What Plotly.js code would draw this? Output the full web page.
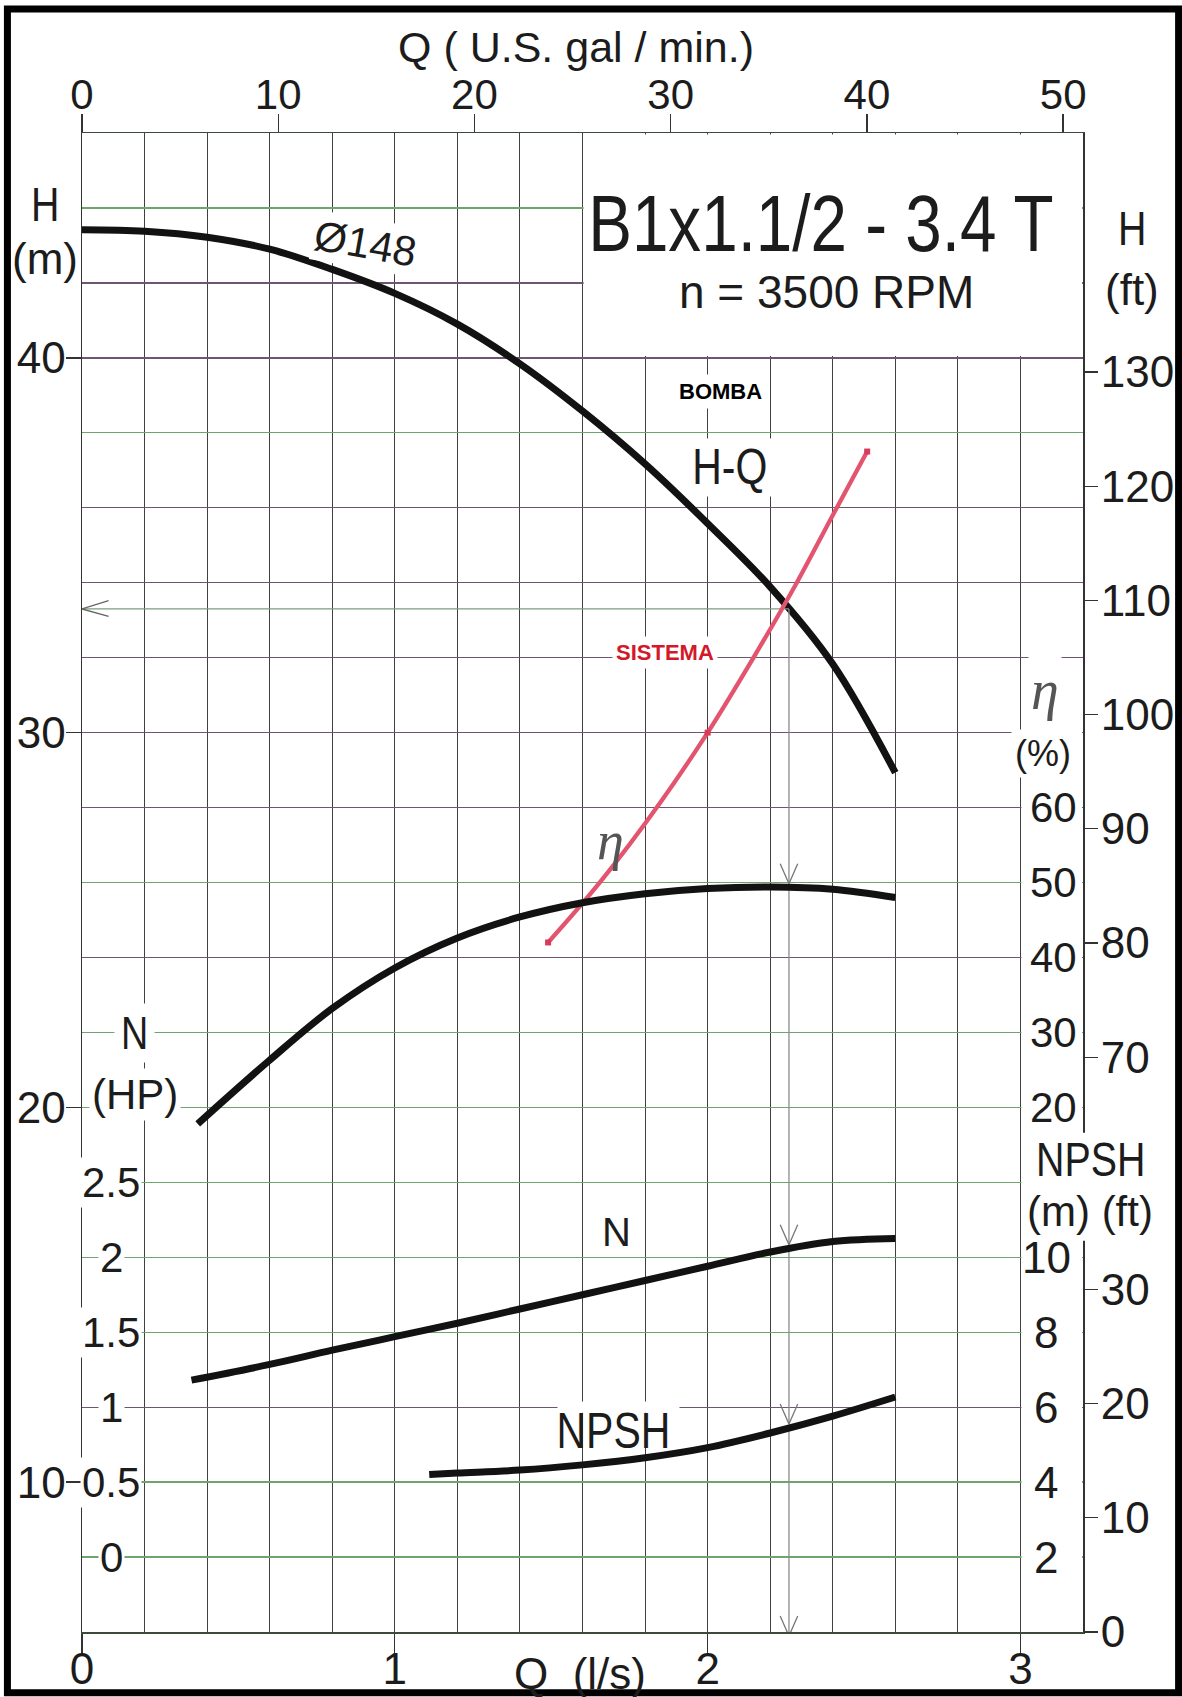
<!DOCTYPE html>
<html><head><meta charset="utf-8">
<script src="https://cdn.plot.ly/plotly-3.0.1.min.js"></script>
<style>html,body{margin:0;padding:0;background:#fff}</style>
</head><body>
<div id="chart" style="width:1182px;height:1697px"></div>
<script>
// ---------------- data ----------------
const qHQ  = [0, 0.2, 0.4, 0.6, 0.8, 1.0, 1.2, 1.4, 1.6, 1.8, 2.0, 2.2, 2.4, 2.6];
const hHQ  = [43.42, 43.38, 43.22, 42.90, 42.36, 41.72, 40.90, 39.84, 38.58, 37.17, 35.58, 33.89, 31.83, 28.93];
const qEta = [0.37, 0.6, 0.8, 1.0, 1.2, 1.4, 1.6, 1.8, 2.0, 2.2, 2.4, 2.6];
const eta  = [17.8, 26.3, 33.2, 38.6, 42.6, 45.4, 47.3, 48.5, 49.2, 49.4, 49.1, 48.0];
const qN   = [0.35, 0.6, 0.8, 1.0, 1.2, 1.4, 1.6, 1.8, 2.0, 2.2, 2.4, 2.6];
const nHP  = [1.18, 1.285, 1.38, 1.47, 1.56, 1.655, 1.75, 1.845, 1.94, 2.035, 2.105, 2.125];
const qNPSH = [1.11, 1.2, 1.4, 1.6, 1.8, 2.0, 2.2, 2.4, 2.6];
const npsh  = [4.2, 4.24, 4.32, 4.46, 4.65, 4.92, 5.31, 5.76, 6.27];
const qSys = [1.49, 1.66, 1.85, 2.0, 2.15, 2.285, 2.40, 2.51];
const hSys = [24.4, 26.05, 28.15, 30.0, 32.05, 34.0, 35.8, 37.5];
const qSysPts = [1.49, 2.0, 2.51];
const hSysPts = [24.4, 30.0, 37.5];
const qOp = 2.26;
const hOp = 33.3;

// tick values / labels
const qTicks = [0, 1, 2, 3];
const gpmTicks = [0, 10, 20, 30, 40, 50];
const hTicks = [10, 20, 30, 40];
const hFtTicks = [70, 80, 90, 100, 110, 120, 130];
const etaTicks = [20, 30, 40, 50, 60];
const nTicks = [0, 0.5, 1, 1.5, 2, 2.5];
const npshMTicks = [2, 4, 6, 8, 10];
const npshFtTicks = [0, 10, 20, 30];
const gridGreen = [44, 38, 26, 22, 20, 18, 16, 14, 10, 8];
const gridPurple = [42, 40, 36, 34, 32, 30, 28, 24, 12];

// scale factors as printed on the sheet
const GPM = 0.06273;     // l/s per US gal/min (as the printed top scale runs)
const FT = 0.3048;       // m per ft

// ---------------- helpers ----------------
function interp(xs, ys, x) {
  for (let i = 0; i < xs.length - 1; i++) {
    if (x >= xs[i] && x <= xs[i + 1]) {
      const t = (x - xs[i]) / (xs[i + 1] - xs[i]);
      return ys[i] + t * (ys[i + 1] - ys[i]);
    }
  }
  return ys[ys.length - 1];
}
const FONT = 'Liberation Sans, Arial, sans-serif';
const SERIF = 'Liberation Serif, DejaVu Serif, serif';
const INK = '#1c1c1c';

const H0 = 6, H1 = 46;
const plotH = 1499;
const pxH = (H1 - H0) / plotH;
const pxEta = 200 / plotH;
const pxN = 10 / plotH;
const pxNP = 40 / plotH;

const traces = [];
// empty traces so that every axis is drawn
[['x', 'y7'], ['x', 'y8'], ['x2', 'y'], ['x', 'y2'], ['x', 'y6']].forEach(p =>
  traces.push({x: [], y: [], xaxis: p[0], yaxis: p[1], showlegend: false, hoverinfo: 'skip'}));

const curveLine = {color: '#121212', width: 7, shape: 'spline', smoothing: 1};
traces.push({x: qHQ, y: hHQ, mode: 'lines', line: curveLine, yaxis: 'y', hoverinfo: 'skip'});
traces.push({x: qEta, y: eta, mode: 'lines', line: curveLine, yaxis: 'y3', hoverinfo: 'skip'});
traces.push({x: qN, y: nHP, mode: 'lines', line: curveLine, yaxis: 'y4', hoverinfo: 'skip'});
traces.push({x: qNPSH, y: npsh, mode: 'lines', line: curveLine, yaxis: 'y5', hoverinfo: 'skip'});

// operating point guide lines
traces.push({x: [qOp, 0], y: [hOp, hOp], mode: 'lines', line: {color: '#7f9c80', width: 1.3}, yaxis: 'y', hoverinfo: 'skip'});
traces.push({x: [0.085, 0, 0.085], y: [hOp + 0.22, hOp, hOp - 0.2], mode: 'lines', line: {color: '#666', width: 1.4}, yaxis: 'y', hoverinfo: 'skip'});
traces.push({x: [qOp, qOp], y: [hOp, H0 - 4 * pxH], mode: 'lines', line: {color: '#8c8c8c', width: 1.3}, yaxis: 'y', cliponaxis: false, hoverinfo: 'skip'});

function chevron(axis, tip, unit, clip) {
  return {x: [qOp - 0.028, qOp, qOp + 0.028], y: [tip + 20 * unit, tip, tip + 20 * unit],
    mode: 'lines', line: {color: '#777', width: 1.3}, yaxis: axis, cliponaxis: clip, hoverinfo: 'skip'};
}
traces.push(chevron('y3', interp(qEta, eta, qOp) + 4 * pxEta, pxEta, true));
traces.push(chevron('y4', interp(qN, nHP, qOp) + 4 * pxN, pxN, true));
traces.push(chevron('y5', interp(qNPSH, npsh, qOp) + 4 * pxNP, pxNP, true));
traces.push(chevron('y', H0 - 4 * pxH, pxH, false));

// system curve
traces.push({x: qSys, y: hSys, mode: 'lines', line: {color: '#e3546f', width: 4.3, shape: 'spline', smoothing: 1}, yaxis: 'y', hoverinfo: 'skip'});
traces.push({x: qSysPts, y: hSysPts, mode: 'markers', marker: {color: '#d83c5c', size: 6, symbol: 'square'}, yaxis: 'y', hoverinfo: 'skip'});

// ---------------- annotations ----------------
const ann = [];
const narrow = [];   // indices of annotations drawn condensed
function A(o, condensed) {
  if (condensed) narrow.push(ann.length);
  ann.push(Object.assign({showarrow: false, xref: 'x', yref: 'y', xanchor: 'center', yanchor: 'middle',
    font: {family: FONT, size: 44, color: INK}}, o));
}
// title block
A({x: 2.363, y: 43.59, text: 'B1x1.1/2 - 3.4 T', font: {family: FONT, size: 80, color: INK}}, true);
A({x: 2.38, y: 41.75, text: 'n = 3500 RPM', font: {family: FONT, size: 46, color: INK}});
A({x: 2.04, y: 39.1, text: '<b>BOMBA</b>', font: {family: FONT, size: 22, color: '#000'}, bgcolor: '#fff', borderpad: 4});
A({x: 2.07, y: 37.1, text: 'H-Q', font: {family: FONT, size: 50, color: INK}}, true);
A({x: 1.865, y: 32.15, text: '<b>SISTEMA</b>', font: {family: FONT, size: 22, color: '#d3182a'}, bgcolor: '#fff', borderpad: 3});
A({x: 0.905, y: 43.05, text: 'Ø148', textangle: 10, font: {family: FONT, size: 42, color: INK}, bgcolor: '#fff', borderpad: 1});
A({x: 1.69, y: 27.1, text: '<i>η</i>', font: {family: SERIF, size: 54, color: '#555'}});
A({x: 1.71, y: 2.17, yref: 'y4', text: 'N', font: {family: FONT, size: 40, color: INK}});
A({x: 1.70, y: 5.37, yref: 'y5', text: 'NPSH', font: {family: FONT, size: 50, color: INK}}, true);

// axis captions
A({xref: 'paper', yref: 'paper', x: 0.494, y: 1.0574, text: 'Q ( U.S. gal / min.)', font: {family: FONT, size: 43, color: INK}});
A({xref: 'paper', yref: 'paper', x: 0.4975, y: -0.0275, text: 'Q  (l/s)', font: {family: FONT, size: 44, color: INK}});
A({xref: 'paper', yref: 'paper', x: -0.0365, y: 0.952, text: 'H', font: {family: FONT, size: 48, color: INK}}, true);
A({xref: 'paper', yref: 'paper', x: -0.0365, y: 0.9166, text: '(m)', font: {family: FONT, size: 44, color: INK}});
A({xref: 'paper', yref: 'paper', x: 1.049, y: 0.9366, text: 'H', font: {family: FONT, size: 48, color: INK}}, true);
A({xref: 'paper', yref: 'paper', x: 1.049, y: 0.8953, text: '(ft)', font: {family: FONT, size: 44, color: INK}});
A({x: 0.168, y: 21.99, text: 'N', font: {family: FONT, size: 46, color: INK}, bgcolor: '#fff', borderpad: 3}, true);
A({x: 0.168, y: 20.35, text: '(HP)', font: {family: FONT, size: 42, color: INK}, bgcolor: '#fff', borderpad: 2});
A({x: 3.078, y: 31.15, text: '<i>η</i>', font: {family: SERIF, size: 56, color: '#555'}, bgcolor: '#fff', borderpad: 2});
A({x: 3.072, y: 29.45, text: '(%)', font: {family: FONT, size: 36, color: INK}, bgcolor: '#fff', borderpad: 3});
A({xref: 'paper', yref: 'paper', x: 1.007, y: 0.3149, text: 'NPSH', font: {family: FONT, size: 48, color: INK}}, true);
A({xref: 'paper', yref: 'paper', x: 1.007, y: 0.2802, text: '(m) (ft)', font: {family: FONT, size: 42, color: INK}});

// tick labels of the secondary scales
etaTicks.forEach(v => A({x: 3.107, y: v, yref: 'y3', text: String(v), font: {family: FONT, size: 42, color: INK}}));
nTicks.forEach(v => A({x: 0.094, y: v, yref: 'y4', text: String(v), font: {family: FONT, size: 42, color: INK}, bgcolor: '#fff', borderpad: 1}));
npshMTicks.forEach(v => A({x: 3.082, y: v, yref: 'y5', text: String(v), font: {family: FONT, size: 44, color: INK}}));

// ---------------- shapes ----------------
const white = {fillcolor: '#fff', line: {width: 0}, layer: 'between'};
const shapes = [
  Object.assign({type: 'rect', xref: 'x', yref: 'y', x0: 1.6035, x1: 3.197, y0: 40.05, y1: 45.96}, white),
  Object.assign({type: 'rect', xref: 'x', yref: 'y', x0: 3.0035, x1: 3.197, y0: 6.05, y1: 31.5}, white),
  Object.assign({type: 'rect', xref: 'x', yref: 'y', x0: 1.93, x1: 2.215, y0: 36.3, y1: 37.85}, white),
  Object.assign({type: 'rect', xref: 'x', yref: 'y', x0: 1.52, x1: 1.91, y0: 11.85, y1: 12.15}, white),
  {type: 'rect', xref: 'paper', yref: 'paper', x0: 0.993, x1: 1.007, y0: 0.261, y1: 0.333, fillcolor: '#fff', line: {width: 0}, layer: 'above'},
  {type: 'rect', xref: 'paper', yref: 'paper', x0: -0.0745, x1: 1.0955, y0: -0.0405, y1: 1.0827, fillcolor: 'rgba(0,0,0,0)', line: {color: '#000', width: 7}, layer: 'above'}
];

// ---------------- layout ----------------
const over = {overlaying: 'y', range: [H0, H1], showticklabels: false, ticks: '', zeroline: false, showline: false};
const tickStyle = {ticks: 'outside', tickwidth: 1.3, tickcolor: '#333', zeroline: false, showgrid: false};
const layout = {
  width: 1182, height: 1697,
  margin: {l: 82, r: 99, t: 133, b: 65, pad: 0},
  paper_bgcolor: '#fff', plot_bgcolor: '#fff',
  showlegend: false,
  font: {family: FONT, color: INK},
  xaxis: Object.assign({}, tickStyle, {range: [0, 3.2], tickmode: 'array', tickvals: qTicks, ticklen: 20,
    tickfont: {size: 44, color: INK}, ticklabelstandoff: -22, showgrid: true, gridcolor: '#404040', gridwidth: 1,
    minor: {dtick: 0.2, tick0: 0, showgrid: true, gridcolor: '#404040', gridwidth: 1, ticks: ''},
    showline: true, mirror: true, linecolor: '#3b4a3b', linewidth: 1.5}),
  xaxis2: Object.assign({}, tickStyle, {overlaying: 'x', side: 'top', anchor: 'y', range: [0, 3.2 / GPM], tickmode: 'array',
    tickvals: gpmTicks, ticklen: 18, tickfont: {size: 42, color: INK}, ticklabelstandoff: -12}),
  yaxis: Object.assign({}, tickStyle, {range: [H0, H1], tickmode: 'array', tickvals: hTicks, ticklen: 15,
    tickfont: {size: 44, color: INK}, ticklabelstandoff: -9, showline: true, mirror: true, linecolor: '#333', linewidth: 1.5}),
  yaxis2: Object.assign({}, tickStyle, {overlaying: 'y', side: 'right', anchor: 'x', range: [H0 / FT, H1 / FT], tickmode: 'array',
    tickvals: hFtTicks, ticklen: 14, tickfont: {size: 44, color: INK}, ticklabelstandoff: -6}),
  yaxis3: {overlaying: 'y', range: [5 * H0 - 80, 5 * H1 - 80], visible: false},
  yaxis4: {overlaying: 'y', range: [(H0 - 8) / 4, (H1 - 8) / 4], visible: false},
  yaxis5: {overlaying: 'y', range: [0, H1 - H0], visible: false},
  yaxis6: Object.assign({}, tickStyle, {overlaying: 'y', side: 'right', anchor: 'x', range: [0, (H1 - H0) / FT], tickmode: 'array',
    tickvals: npshFtTicks, ticklen: 14, tickfont: {size: 44, color: INK}, ticklabelstandoff: -6}),
  yaxis7: Object.assign({}, over, {tickmode: 'array', tickvals: gridGreen, showgrid: true, gridcolor: '#6fa46f', gridwidth: 1.3}),
  yaxis8: Object.assign({}, over, {tickmode: 'array', tickvals: gridPurple, showgrid: true, gridcolor: '#6e5670', gridwidth: 1.3}),
  annotations: ann,
  shapes: shapes
};

Plotly.newPlot('chart', traces, layout, {staticPlot: true, displayModeBar: false}).then(function () {
  narrow.forEach(function (i) {
    const t = document.querySelector('.annotation[data-index="' + i + '"] text.annotation-text');
    if (t) {
      t.style.transformBox = 'fill-box';
      t.style.transformOrigin = 'center';
      t.style.transform = 'scaleX(0.82)';
    }
  });
});
</script>
</body></html>
